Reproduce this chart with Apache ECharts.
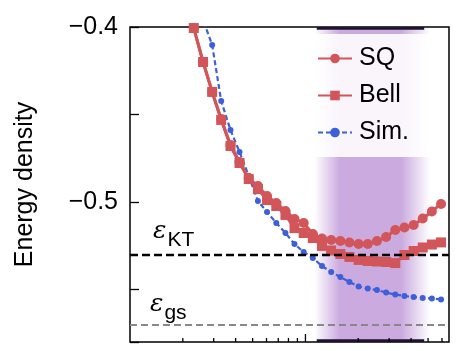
<!DOCTYPE html>
<html>
<head>
<meta charset="utf-8">
<script src="https://cdn.jsdelivr.net/npm/echarts@6/dist/echarts.min.js"></script>
<style>
  html, body { margin: 0; padding: 0; background: #fff; }
  #chart { width: 472px; height: 351px; }
</style>
</head>
<body>
<div id="chart"></div>
<script>
// x positions (log axis) shared by the three curves
var xs = [2.05, 2.31, 2.61, 2.94, 3.31, 3.74, 4.21, 4.75, 5.36, 6.04, 6.82, 7.69, 8.66, 9.77,
  11.02, 12.43, 14.02, 15.81, 17.81, 20.09, 22.66, 25.56, 28.83, 32.51, 36.67, 41.36, 46.60, 52.55, 59.27]
var sqValues = [-0.379, -0.4006, -0.42, -0.4371, -0.4526, -0.4674, -0.4771, -0.4863, -0.4909, -0.4966,
  -0.5006, -0.5051, -0.5097, -0.512, -0.5183, -0.5209, -0.5217, -0.5223, -0.5231, -0.524,
  -0.524, -0.5223, -0.52, -0.516, -0.5146, -0.5131, -0.5094, -0.5054, -0.5011]
var bellValues = [-0.379, -0.4006, -0.42, -0.4371, -0.4531, -0.468, -0.4777, -0.4869, -0.4926, -0.4989,
  -0.5023, -0.5074, -0.5149, -0.5177, -0.5206, -0.5251, -0.5277, -0.5297, -0.5314, -0.5331,
  -0.5337, -0.534, -0.5343, -0.5349, -0.5303, -0.528, -0.526, -0.5243, -0.5231]
var simValues = [null, -0.3703, -0.396, -0.4103, -0.4423, -0.4589, -0.4714, -0.4851, -0.4994, -0.5057,
  -0.512, -0.5177, -0.524, -0.5286, -0.532, -0.5366, -0.54, -0.5429, -0.5457, -0.5483,
  -0.5494, -0.5503, -0.5517, -0.5529, -0.5537, -0.5543, -0.5549, -0.5551, -0.5557]
var eKT = -0.5302
var eGS = -0.5698
var bandRange = [11.25, 51.3] //紫色区域
var xTicks = [2, 3, 4, 5, 6, 7, 8, 9, 10, 20, 30, 40, 50, 60]
var xMajor = [10]
var yMin = -0.58, yMax = -0.4

function pairs(vals) {
  return xs.map(function (x, i) { return vals[i] == null ? [x, null] : [x, vals[i]] })
}

var red = '#d2555a'
var blue = '#3d5fd9'
var purple = 'rgba(140,70,185,0.46)'
var font = 'Liberation Sans, Arial, sans-serif'

var myChart = echarts.init(document.getElementById('chart'))
myChart.setOption({
  backgroundColor: '#fff',
  animation: false,
  grid: {
    left: 130, top: 27, right: 23, bottom: 9,
    show: true, borderColor: '#000', borderWidth: 1.5, backgroundColor: 'transparent'
  },
  legend: {
    data: ['SQ', 'Bell', 'Sim.'],
    orient: 'vertical',
    left: 300, top: 34,
    padding: [12, 24, 12, 17],
    itemGap: 12,
    itemWidth: 34, itemHeight: 12,
    backgroundColor: 'rgba(255,255,255,0.88)',
    borderRadius: 4,
    textStyle: { fontFamily: font, fontSize: 25, color: '#000', lineHeight: 24, padding: [0, 0, 0, 2] }
  },
  xAxis: {
    type: 'log', logBase: 10, min: 1, max: 65.8,
    axisLine: { show: false },
    axisTick: { show: false },
    axisLabel: { show: false },
    splitLine: { show: false }
  },
  yAxis: {
    type: 'value', min: yMin, max: yMax,
    splitNumber: 4, minInterval: 0.05, maxInterval: 0.05,
    name: 'Energy density',
    nameLocation: 'middle',
    nameGap: 92,
    nameTextStyle: { fontFamily: font, fontSize: 25, color: '#000' },
    axisLine: { show: false },
    axisTick: { show: true, inside: true, length: 9, lineStyle: { color: '#000', width: 1.3 } },
    axisLabel: {
      fontFamily: font, fontSize: 25, color: '#000', margin: 12,
      formatter: function (v) {
        if (Math.abs(v * 10 - Math.round(v * 10)) > 1e-6 || v < -0.55) return ''
        return '\u2212' + Math.abs(v).toFixed(1)
      }
    },
    splitLine: { show: false }
  },
  series: [{
    name: 'Sim.',
    type: 'line',
    data: pairs(simValues),
    symbol: 'circle', symbolSize: 6,
    itemStyle: { color: blue },
    lineStyle: { color: blue, width: 2.2, type: [5, 3] },
    markArea: {
      silent: true, z: 3,
      data: [
        [{ xAxis: bandRange[0], yAxis: yMax, itemStyle: { color: {
          type: 'linear', x: 0, y: 0, x2: 1, y2: 0,
          colorStops: [
            { offset: 0, color: 'rgba(140,70,185,0)' },
            { offset: 0.22, color: purple },
            { offset: 0.75, color: purple },
            { offset: 1, color: 'rgba(140,70,185,0)' }
          ] } } }, { xAxis: bandRange[1], yAxis: yMin }],
        // 边框上的深色条
        [{ xAxis: 11.6, yAxis: yMax, itemStyle: { color: '#1e1230' } }, { xAxis: 47.5, yAxis: -0.4016 }],
        [{ xAxis: 11.6, yAxis: -0.5784, itemStyle: { color: '#1e1230' } }, { xAxis: 47.5, yAxis: yMin }]
      ]
    },
    markLine: {
      silent: true, symbol: 'none', z: 5,
      data: [
        { yAxis: eKT, lineStyle: { color: '#000', width: 2.3, type: [8, 4] },
          label: { formatter: '{e|ε}{s|KT}' } },
        { yAxis: eGS, lineStyle: { color: '#888', width: 1.8, type: [7, 4] },
          label: { formatter: '{e|ε}{s|gs}', distance: 1 } }
      ],
      label: {
        position: 'insideStartTop', distance: 4,
        padding: [0, 0, 0, 19],
        rich: {
          e: { fontFamily: 'DejaVu Serif, serif', fontStyle: 'italic', fontSize: 25, color: '#000', verticalAlign: 'bottom', padding: [0, 1, 7, 0] },
          s: { fontFamily: font, fontSize: 21, color: '#000', verticalAlign: 'bottom' }
        }
      }
    }
  }, {
    name: 'Bell',
    type: 'line',
    data: pairs(bellValues),
    symbol: 'rect', symbolSize: 10,
    itemStyle: { color: red },
    lineStyle: { color: red, width: 3 }
  }, {
    name: 'SQ',
    type: 'line',
    data: pairs(sqValues),
    symbol: 'circle', symbolSize: 10,
    itemStyle: { color: red },
    lineStyle: { color: red, width: 3 }
  }, {
    // x轴刻度
    name: 'ticks',
    type: 'custom',
    silent: true,
    data: xTicks.map(function (t) { return [t, xMajor.indexOf(t) >= 0 ? 1 : 0] }),
    renderItem: function (params, api) {
      var p = api.coord([api.value(0), yMin])
      var len = api.value(1) ? 8 : 4
      return {
        type: 'line',
        shape: { x1: p[0], y1: p[1], x2: p[0], y2: p[1] - len },
        style: { stroke: '#000', lineWidth: 1.3 }
      }
    },
    z: 6
  }]
})
</script>
</body>
</html>
